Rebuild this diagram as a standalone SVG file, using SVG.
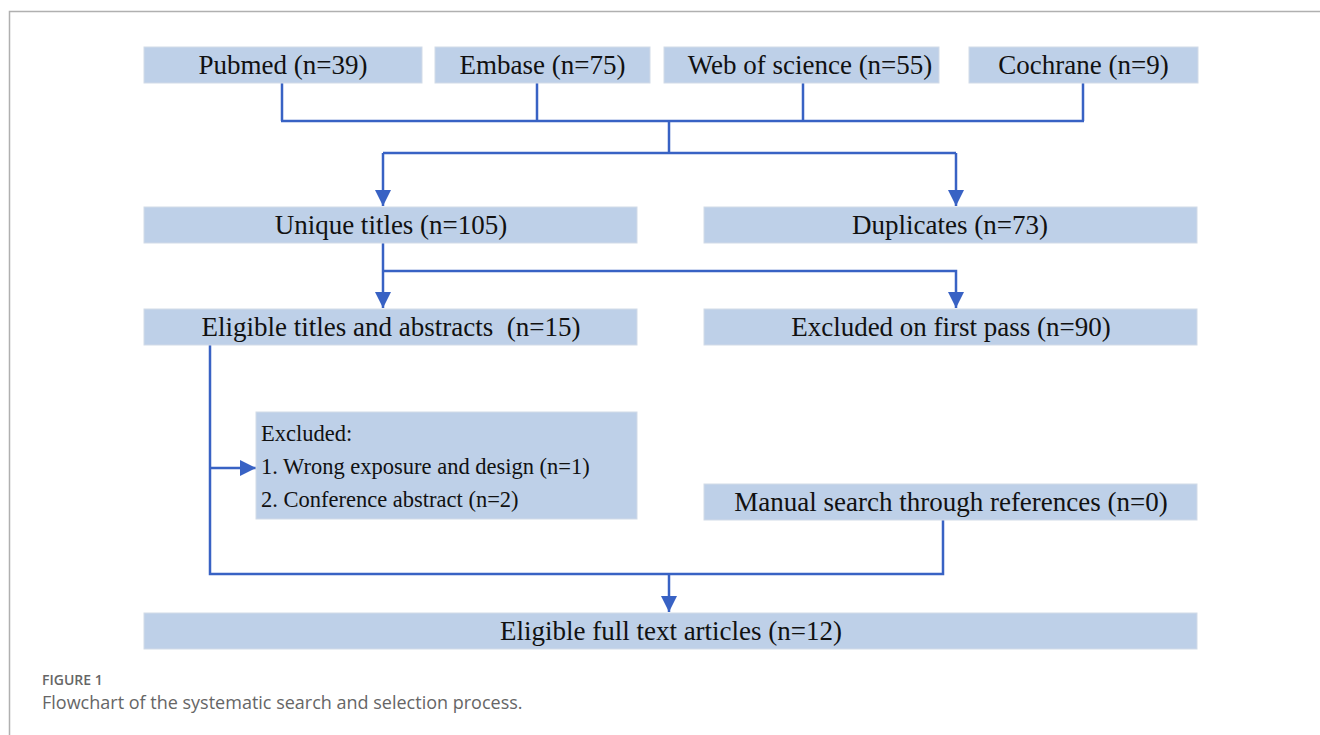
<svg xmlns="http://www.w3.org/2000/svg" width="1320" height="735" viewBox="0 0 1320 735">
<style>
.box{fill:#bed0e8;stroke:#d2dbe8;stroke-width:1}
.t{font-family:"Liberation Serif","Times New Roman",serif;font-size:27px;fill:#111;text-anchor:middle}
.ts{font-family:"Liberation Serif","Times New Roman",serif;font-size:22.5px;fill:#111}
.c{fill:none;stroke:#3862c4;stroke-width:2.5}
.cap1{font-family:"Open Sans","Noto Sans",sans-serif;font-size:14px;fill:#666;font-weight:600}
.cap2{font-family:"Open Sans","Noto Sans",sans-serif;font-size:18px;fill:#666}
</style>
<defs>
<marker id="ah" viewBox="0 0 10 10" refX="10" refY="5" markerWidth="6.5" markerHeight="6.5" markerUnits="strokeWidth" orient="auto">
<path d="M0,0 L10,5 L0,10 Z" fill="#3862c4"/>
</marker>
</defs>
<rect width="1320" height="735" fill="#fff"/>
<path d="M9.5,735 V11.5 H1320" fill="none" stroke="#b0b0b0" stroke-width="1.5"/>

<g id="connectors">
<path class="c" d="M282,83 V121 M537,83 V121 M803,83 V121 M1083,83 V121 M281,121 H1084"/>
<path class="c" d="M669,121 V153 M383,153 H956"/>
<path class="c" d="M383,153 V206" marker-end="url(#ah)"/>
<path class="c" d="M956,153 V206" marker-end="url(#ah)"/>
<path class="c" d="M383,243 V308" marker-end="url(#ah)"/>
<path class="c" d="M383,271 H956 V308" marker-end="url(#ah)"/>
<path class="c" d="M210,345 V574 H943 V520"/>
<path class="c" d="M210,468 H256" marker-end="url(#ah)"/>
<path class="c" d="M669,574 V612" marker-end="url(#ah)"/>
</g>

<g id="pubmed"><rect class="box" x="144" y="47" width="278" height="36"/><text class="t" x="283" y="74">Pubmed (n=39)</text></g>
<g id="embase"><rect class="box" x="435" y="47" width="215" height="36"/><text class="t" x="542.5" y="74">Embase (n=75)</text></g>
<g id="wos"><rect class="box" x="664" y="47" width="275" height="36"/><text class="t" x="810" y="74">Web of science (n=55)</text></g>
<g id="cochrane"><rect class="box" x="969" y="47" width="229" height="36"/><text class="t" x="1083.5" y="74">Cochrane (n=9)</text></g>

<g id="unique"><rect class="box" x="144" y="207" width="493" height="36"/><text class="t" x="391" y="234">Unique titles (n=105)</text></g>
<g id="duplicates"><rect class="box" x="704" y="207" width="493" height="36"/><text class="t" x="950" y="234">Duplicates (n=73)</text></g>

<g id="eligible"><rect class="box" x="144" y="309" width="493" height="36"/><text class="t" x="391" y="336" xml:space="preserve">Eligible titles and abstracts  (n=15)</text></g>
<g id="excluded-first"><rect class="box" x="704" y="309" width="493" height="36"/><text class="t" x="951" y="336">Excluded on first pass (n=90)</text></g>

<g id="excluded"><rect class="box" x="256" y="412" width="381" height="107"/>
<text class="ts" x="261" y="441">Excluded:</text>
<text class="ts" x="261" y="474">1. Wrong exposure and design (n=1)</text>
<text class="ts" x="261" y="507">2. Conference abstract (n=2)</text>
</g>

<g id="manual"><rect class="box" x="704" y="484" width="493" height="36"/><text class="t" x="951" y="511">Manual search through references (n=0)</text></g>

<g id="fulltext"><rect class="box" x="144" y="613" width="1053" height="36"/><text class="t" x="671" y="640">Eligible full text articles (n=12)</text></g>

<text class="cap1" x="42" y="685">FIGURE 1</text>
<text class="cap2" x="42" y="709">Flowchart of the systematic search and selection process.</text>
</svg>
